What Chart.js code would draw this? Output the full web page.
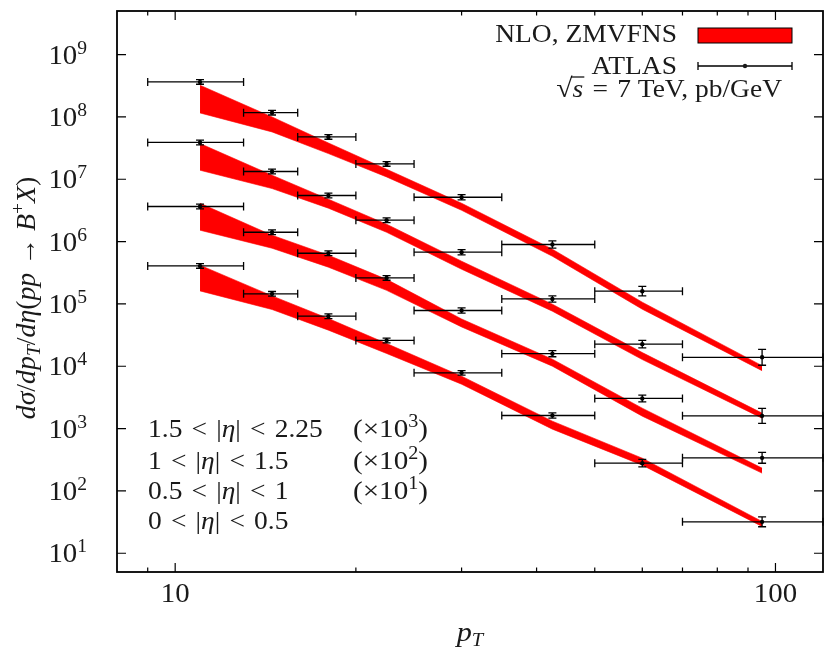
<!DOCTYPE html>
<html>
<head>
<meta charset="utf-8">
<script src="https://cdn.jsdelivr.net/npm/chart.js@4.4.0/dist/chart.umd.min.js"></script>
<style>
  body { margin: 0; background: #fff; }
  canvas { display: block; }
</style>
</head>
<body>
<canvas id="grafico" width="827" height="660"></canvas>
<script>
// bins de pT (GeV)
const ptCentro = [11, 14.5, 18, 22.5, 30, 42.5, 60, 95];
const ptMin = [9, 13, 16, 20, 25, 35, 50, 70];
const ptMax = [13, 16, 20, 25, 35, 50, 70, 120];

// ATLAS, ja multiplicado pelo fator de cada faixa de eta
const atlasEta0 = [4.07e5, 1.45e5, 6.35e4, 2.59e4, 7.83e3, 1.62e3, 279, 31.9];
const atlasEta1 = [3.65e6, 1.41e6, 6.50e5, 2.61e5, 7.84e4, 1.59e4, 3.04e3, 339];
const atlasEta2 = [3.89e7, 1.33e7, 5.48e6, 2.20e6, 6.75e5, 1.20e5, 2.26e4, 1.60e3];
const atlasEta3 = [3.64e8, 1.17e8, 4.77e7, 1.76e7, 5.14e6, 8.97e5, 1.60e5, 1.39e4];

// erro relativo dos pontos
const erroEta0 = [0.09, 0.09, 0.09, 0.09, 0.09, 0.10, 0.15, 0.20];
const erroEta1 = [0.09, 0.09, 0.09, 0.09, 0.10, 0.12, 0.13, 0.22];
const erroEta2 = [0.09, 0.09, 0.09, 0.09, 0.10, 0.12, 0.15, 0.32];
const erroEta3 = [0.09, 0.09, 0.09, 0.09, 0.10, 0.14, 0.19, 0.34];

// banda NLO (limite superior / inferior)
const nloAltoEta0 = [4.18e5, 1.344e5, 5.83e4, 2.317e4, 6.92e3, 1.314e3, 335, 32.3];
const nloBaixoEta0 = [1.616e5, 8.13e4, 3.79e4, 1.602e4, 5.15e3, 978, 259, 26.9];
const nloAltoEta1 = [4.12e6, 1.264e6, 6.04e5, 2.476e5, 5.73e4, 1.297e4, 2.124e3, 231.7];
const nloBaixoEta1 = [1.52e6, 7.82e5, 3.88e5, 1.65e5, 4.27e4, 1.002e4, 1.581e3, 192.6];
const nloAltoEta2 = [3.74e7, 1.16e7, 4.78e6, 1.90e6, 4.84e5, 9.89e4, 1.657e4, 1.766e3];
const nloBaixoEta2 = [1.394e7, 7.09e6, 3.43e6, 1.41e6, 3.60e5, 7.64e4, 1.28e4, 1.468e3];
const nloAltoEta3 = [3.22e8, 9.98e7, 3.82e7, 1.447e7, 4.12e6, 7.54e5, 1.065e5, 1.02e4];
const nloBaixoEta3 = [1.157e8, 5.74e7, 2.58e7, 1.088e7, 3.18e6, 5.82e5, 8.22e4, 8.48e3];

// ticks
const ticksX = [10, 100];
const ticksXMenor = [9, 20, 30, 40, 50, 60, 70, 80, 90];
const expoentesY = [1, 2, 3, 4, 5, 6, 7, 8, 9];

const faixas = [
  { pontos: atlasEta0, erro: erroEta0, alto: nloAltoEta0, baixo: nloBaixoEta0 },
  { pontos: atlasEta1, erro: erroEta1, alto: nloAltoEta1, baixo: nloBaixoEta1 },
  { pontos: atlasEta2, erro: erroEta2, alto: nloAltoEta2, baixo: nloBaixoEta2 },
  { pontos: atlasEta3, erro: erroEta3, alto: nloAltoEta3, baixo: nloBaixoEta3 }
];

const SERIF = '"Liberation Serif", "Times New Roman", serif';
const rm = n => n + 'px ' + SERIF;
const it = n => 'italic ' + n + 'px ' + SERIF;
const ESP = '\u2002'; // espaco largo, tipo espacamento matematico
const ESP2 = '\u2004';

function xy(vals) {
  return vals.map((v, i) => ({ x: ptCentro[i], y: v }));
}

// escreve pedacos de texto em sequencia: [texto, fonte, deslocamento vertical]
// sx alarga na horizontal (a fonte do original e mais larga)
function escreve(ctx, x, y, partes, alinhar, sx) {
  sx = sx || 1;
  let total = 0;
  partes.forEach(p => { ctx.font = p[1]; total += ctx.measureText(p[0]).width * sx; });
  let cx = x;
  if (alinhar === 'right') cx = x - total;
  if (alinhar === 'center') cx = x - total / 2;
  const inicio = cx;
  partes.forEach(p => {
    ctx.font = p[1];
    ctx.save();
    ctx.translate(cx, y + (p[2] || 0));
    ctx.scale(sx, 1);
    ctx.fillText(p[0], 0, 0);
    ctx.restore();
    cx += ctx.measureText(p[0]).width * sx;
  });
  return inicio;
}

const datasets = [];
faixas.forEach(f => {
  datasets.push({
    type: 'scatter', data: xy(f.pontos), order: -1,
    pointRadius: 2.2, pointBackgroundColor: '#000', pointBorderWidth: 0, showLine: false
  });
});
faixas.forEach(f => {
  datasets.push({
    data: xy(f.alto), fill: '+1', backgroundColor: '#ff0000', borderColor: '#ff0000',
    borderWidth: 0.6, pointRadius: 0, tension: 0
  });
  datasets.push({
    data: xy(f.baixo), fill: false, borderColor: '#ff0000',
    borderWidth: 0.6, pointRadius: 0, tension: 0
  });
});

const desenho = {
  id: 'desenho',
  afterDatasetsDraw(chart) {
    const { ctx, scales: { x, y } } = chart;
    ctx.save();
    ctx.strokeStyle = '#000';
    ctx.lineWidth = 1.3;
    faixas.forEach(f => {
      f.pontos.forEach((v, i) => {
        const px = x.getPixelForValue(ptCentro[i]);
        const x0 = x.getPixelForValue(ptMin[i]);
        const x1 = x.getPixelForValue(ptMax[i]);
        const py = y.getPixelForValue(v);
        const yHi = y.getPixelForValue(v * (1 + f.erro[i]));
        const yLo = y.getPixelForValue(v / (1 + f.erro[i]));
        ctx.beginPath();
        ctx.moveTo(x0, py); ctx.lineTo(x1, py);
        ctx.moveTo(x0, py - 4); ctx.lineTo(x0, py + 4);
        ctx.moveTo(x1, py - 4); ctx.lineTo(x1, py + 4);
        ctx.moveTo(px, yHi); ctx.lineTo(px, yLo);
        ctx.moveTo(px - 4, yHi); ctx.lineTo(px + 4, yHi);
        ctx.moveTo(px - 4, yLo); ctx.lineTo(px + 4, yLo);
        ctx.stroke();
      });
    });
    ctx.restore();
  },
  afterDraw(chart) {
    const { ctx, chartArea: a, scales: { x, y } } = chart;
    ctx.save();
    ctx.strokeStyle = '#000';
    ctx.fillStyle = '#1a1a1a';

    // ticks para dentro, nos quatro lados
    ctx.lineWidth = 1.2;
    ctx.beginPath();
    ticksX.concat(ticksXMenor).forEach(v => {
      const px = x.getPixelForValue(v);
      const len = ticksX.includes(v) ? 9 : 4.5;
      ctx.moveTo(px, a.bottom); ctx.lineTo(px, a.bottom - len);
      ctx.moveTo(px, a.top); ctx.lineTo(px, a.top + len);
    });
    expoentesY.forEach(e => {
      const py = y.getPixelForValue(Math.pow(10, e));
      ctx.moveTo(a.left, py); ctx.lineTo(a.left + 9, py);
      ctx.moveTo(a.right, py); ctx.lineTo(a.right - 9, py);
    });
    ctx.stroke();

    ctx.lineWidth = 1.8;
    ctx.strokeRect(a.left, a.top, a.right - a.left, a.bottom - a.top);

    // rotulos
    ctx.textBaseline = 'alphabetic';
    ticksX.forEach(v => {
      escreve(ctx, x.getPixelForValue(v), 602, [[String(v), rm(28)]], 'center', 1.03);
    });
    expoentesY.forEach(e => {
      const py = y.getPixelForValue(Math.pow(10, e));
      escreve(ctx, 87, py + 9, [['10', rm(28)], [String(e), rm(19), -10]], 'right', 1.03);
    });

    // titulo eixo x
    escreve(ctx, 470, 641, [['p', it(28)], ['T', it(19), 5]], 'center', 1.08);

    // titulo eixo y
    ctx.save();
    ctx.translate(35, 298);
    ctx.rotate(-Math.PI / 2);
    escreve(ctx, 0, 0, [
      ['dσ', it(27)], ['/', rm(27)], ['dp', it(27)], ['T', it(19), 5], ['/', rm(27)],
      ['dη', it(27)], ['(', rm(27)], ['pp', it(27)], [' → ', rm(27)], ['B', it(27)],
      ['+', rm(19), -11], ['X', it(27)], [')', rm(27)]
    ], 'center', 1.03);
    ctx.restore();

    // legenda
    escreve(ctx, 677, 42, [['NLO, ZMVFNS', rm(25)]], 'right', 1.1);
    ctx.fillStyle = '#ff0000';
    ctx.fillRect(698, 28, 94, 15);
    ctx.lineWidth = 1;
    ctx.strokeRect(698, 28, 94, 15);
    ctx.fillStyle = '#1a1a1a';
    escreve(ctx, 677, 74, [['ATLAS', rm(25)]], 'right', 1.1);
    ctx.lineWidth = 1.3;
    ctx.beginPath();
    ctx.moveTo(698, 66); ctx.lineTo(792, 66);
    ctx.moveTo(698, 62); ctx.lineTo(698, 70);
    ctx.moveTo(792, 62); ctx.lineTo(792, 70);
    ctx.stroke();
    ctx.beginPath();
    ctx.arc(745, 66, 2.2, 0, Math.PI * 2);
    ctx.fill();

    const sxs = 1.1;
    const x0 = escreve(ctx, 782, 97, [
      ['√', rm(27)], ['s', it(25)], [ESP2 + '=' + ESP2 + '7 TeV, pb/GeV', rm(25)]
    ], 'right', sxs);
    ctx.font = rm(27);
    const wr = ctx.measureText('√').width * sxs;
    ctx.font = it(25);
    const ws = ctx.measureText('s').width * sxs;
    ctx.lineWidth = 1.2;
    ctx.beginPath();
    ctx.moveTo(x0 + wr - 1.5, 97 - 20);
    ctx.lineTo(x0 + wr + ws + 1, 97 - 20);
    ctx.stroke();

    // faixas de eta
    const linhas = [
      ['1.5', '2.25', '3', 437],
      ['1', '1.5', '2', 469],
      ['0.5', '1', '1', 499],
      ['0', '0.5', null, 529]
    ];
    linhas.forEach(l => {
      escreve(ctx, 148, l[3], [
        [l[0] + ESP2 + '<' + ESP2 + '|', rm(25)], ['η', it(25)], ['|' + ESP2 + '<' + ESP2 + l[1], rm(25)]
      ], 'left', 1.1);
      if (l[2]) {
        escreve(ctx, 353, l[3], [['(×10', rm(26)], [l[2], rm(18), -10], [')', rm(26)]], 'left', 1.12);
      }
    });
    ctx.restore();
  }
};

new Chart(document.getElementById('grafico'), {
  type: 'line',
  data: { datasets: datasets },
  options: {
    responsive: false,
    animation: false,
    devicePixelRatio: 1,
    layout: { padding: { left: 0, right: 4, top: 11, bottom: 0 } },
    plugins: { legend: { display: false }, tooltip: { enabled: false } },
    scales: {
      x: {
        type: 'logarithmic', min: 8, max: 120,
        ticks: { display: false }, grid: { display: false }, border: { display: false },
        afterFit(s) { s.height = 88; }
      },
      y: {
        type: 'logarithmic', min: 5, max: 5e9,
        ticks: { display: false }, grid: { display: false }, border: { display: false },
        afterFit(s) { s.width = 117; }
      }
    }
  },
  plugins: [desenho]
});
</script>
</body>
</html>
